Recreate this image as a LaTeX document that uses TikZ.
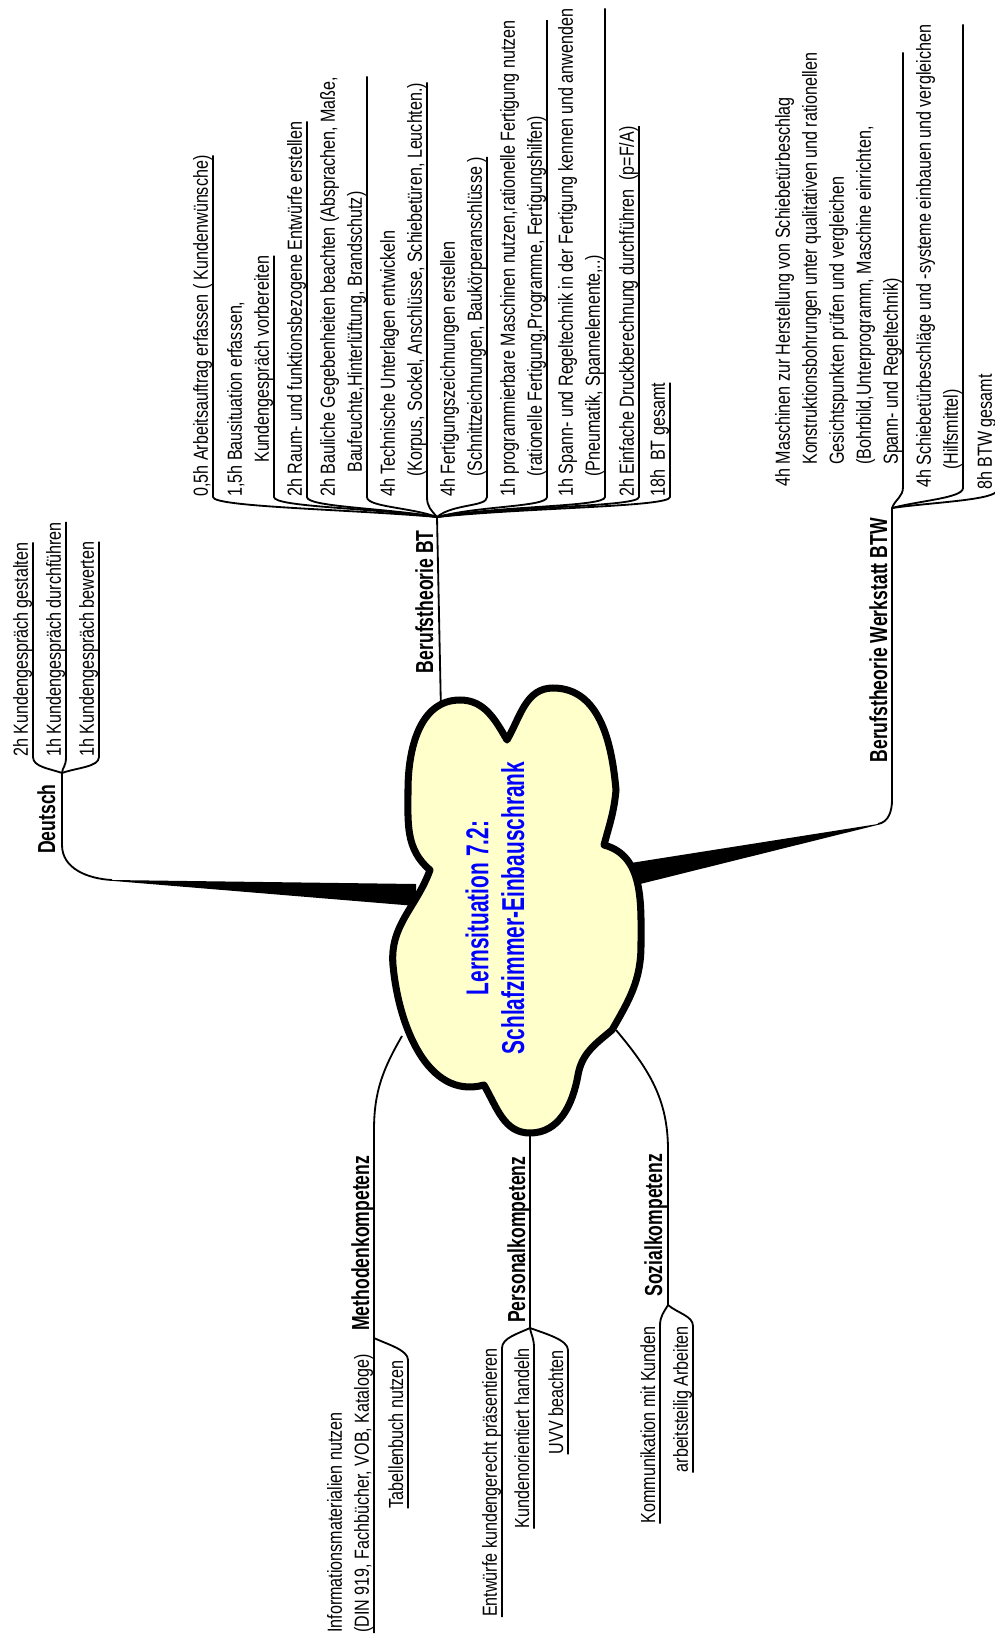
\documentclass[tikz,border=0pt]{standalone}
\usepackage{fontspec}
\setmainfont{Liberation Sans}
\newfontfamily\leaffont{Liberation Sans}[FakeStretch=0.79]
\newfontfamily\topicfont{Liberation Sans}[FakeStretch=0.715]
\newfontfamily\cloudfont{Liberation Sans}[FakeStretch=0.66]
\newcommand\lowstrut{\rule[-2.8pt]{0pt}{2.8pt}}
\definecolor{wolke}{RGB}{255,255,204}

\begin{document}
\begin{tikzpicture}[
    x=0.025cm, y=-0.025cm,                      % Pixelraster des Originals
    line join=round,
    twig/.style={line width=1.3pt},
    leaf/.style={rotate=90, align=left, inner xsep=0pt, inner ysep=0.5pt,
      font=\leaffont\fontsize{14.5}{19.2}\selectfont, execute at end node=\lowstrut},
    topic/.style={rotate=90, inner sep=0pt, font=\topicfont\fontsize{17.5}{20}\selectfont\bfseries},
    fanup/.style={out=#1, in=-90, in distance=0.25cm},   % Aeste nach oben
    fandown/.style={out=#1, in=90, in distance=0.25cm}   % Aeste nach unten
  ]
  \useasboundingbox (0,0) rectangle (994,1637);

  % Verzweigungspunkte
  \coordinate (deu) at (62,773);
  \coordinate (deutip) at (112,880);
  \coordinate (bt) at (437,517);
  \coordinate (btroot) at (441,712);
  \coordinate (btw) at (892,508);
  \coordinate (btwtip) at (878,824);
  \coordinate (meth) at (374,1338);
  \coordinate (methroot) at (402,1036);
  \coordinate (pers) at (530,1328);
  \coordinate (persroot) at (530,1135);
  \coordinate (soz) at (668,1305);
  \coordinate (sozroot) at (616,1030);

  % Hauptaeste
  \node[topic, anchor=base east] (deutsch) at (55,784) {Deutsch};
  \node[topic, anchor=base east] (bttitle) at (433,530) {Berufstheorie BT};
  \node[topic, anchor=base east] (btwtitle) at (887,518) {Berufstheorie Werkstatt BTW};
  \node[topic, anchor=base west] (methtitle) at (369,1331) {Methodenkompetenz};
  \node[topic, anchor=base west] (perstitle) at (525,1323) {Personalkompetenz};
  \node[topic, anchor=base west] (soztitle) at (662,1297) {Sozialkompetenz};

  % Deutsch
  \node[leaf, anchor=south west] (d1) at (33,757) {2h Kundengespräch gestalten};
  \node[leaf, anchor=south west] (d2) at (66,757) {1h Kundengespräch durchführen};
  \node[leaf, anchor=south west] (d3) at (99,757) {1h Kundengespräch bewerten};

  % Berufstheorie BT
  \node[leaf, anchor=south west] (bt1) at (213,497) {0,5h Arbeitsauftrag erfassen ( Kundenwünsche)};
  \node[leaf, anchor=south west] (bt2) at (274,497) {1,5h Bausituation erfassen,\\\hspace*{0.85cm}Kundengespräch vorbereiten};
  \node[leaf, anchor=south west] (bt3) at (307,497) {2h Raum- und funktionsbezogene Entwürfe erstellen};
  \node[leaf, anchor=south west] (bt4) at (367,497) {2h Bauliche Gegebenheiten beachten (Absprachen, Maße,\\\hspace*{0.6cm}Baufeuchte,Hinterlüftung, Brandschutz)};
  \node[leaf, anchor=south west] (bt5) at (427,497) {4h Technische Unterlagen entwickeln\\\hspace*{0.5cm}(Korpus, Sockel, Anschlüsse, Schiebetüren, Leuchten.)};
  \node[leaf, anchor=south west] (bt6) at (487,497) {4h Fertigungszeichnungen erstellen\\\hspace*{0.5cm}(Schnittzeichnungen, Baukörperanschlüsse )};
  \node[leaf, anchor=south west] (bt7) at (547,497) {1h programmierbare Maschinen nutzen,rationelle Fertigung nutzen\\\hspace*{0.5cm}(rationelle Fertigung,Programme, Fertigungshilfen)};
  \node[leaf, anchor=south west] (bt8) at (605,497) {1h Spann- und Regeltechnik in der Fertigung kennen und anwenden\\\hspace*{0.5cm}(Pneumatik, Spannelemente,..)};
  \node[leaf, anchor=south west] (bt9) at (639,497) {2h Einfache Druckberechnung durchführen~ (p=F/A)};
  \node[leaf, anchor=south west] (bt10) at (670,497) {18h~ BT gesamt};

  % Berufstheorie Werkstatt BTW
  \node[leaf, anchor=south west] (btw1) at (903,487) {4h Maschinen zur Herstellung von Schiebetürbeschlag\\\hspace*{0.55cm}Konstruktionsbohrungen unter qualitativen und rationellen\\\hspace*{0.55cm}Gesichtspunkten prüfen und vergleichen\\\hspace*{0.55cm}(Bohrbild,Unterprogramm, Maschine einrichten,\\\hspace*{0.55cm}Spann- und Regeltechnik)};
  \node[leaf, anchor=south west] (btw2) at (963,488) {4h Schiebetürbeschläge und -systeme einbauen und vergleichen\\\hspace*{0.45cm}(Hilfsmittel)};
  \node[leaf, anchor=south west] (btw3) at (997,490) {8h BTW gesamt};

  % Kompetenzen
  \node[leaf, anchor=south east] (m1) at (374,1354) {Informationsmaterialien nutzen\\(DIN 919, Fachbücher, VOB, Kataloge)};
  \node[leaf, anchor=south east] (m2) at (408,1360) {Tabellenbuch nutzen};
  \node[leaf, anchor=south east] (p1) at (502,1348) {Entwürfe kundengerecht präsentieren};
  \node[leaf, anchor=south east] (p2) at (534,1348) {Kundenorientiert handeln};
  \node[leaf, anchor=south east] (p3) at (568,1350) {UVV beachten};
  \node[leaf, anchor=south east] (s1) at (660,1326) {Kommunikation mit Kunden};
  \node[leaf, anchor=south east] (s2) at (693,1326) {arbeitsteilig Arbeiten};

  % Verbindungen
  \fill (416,884) -- (deutip) -- ([yshift=-0.6pt]deutip) -- (416,906) -- cycle;
  \draw[twig] (deutip) to[out=177, in=-90] (62,845) -- (deu);
  \draw[twig] (deu) to[fanup=160] (d1.south west) -- (d1.south east);
  \draw[twig] (deu) to[fanup=85] (d2.south west) -- (d2.south east);
  \draw[twig] (deu) to[fanup=20] (d3.south west) -- (d3.south east);

  \draw[twig] (btroot) -- (bt);
  \draw[twig] (bt) to[fanup=175] (bt1.south west) -- (bt1.south east);
  \draw[twig] (bt) to[fanup=172] (bt2.south west) -- (bt2.south east);
  \draw[twig] (bt) to[fanup=170] (bt3.south west) -- (bt3.south east);
  \draw[twig] (bt) to[fanup=160] (bt4.south west) -- (bt4.south east);
  \draw[twig] (bt) to[fanup=130] (bt5.south west) -- (bt5.south east);
  \draw[twig] (bt) to[fanup=40] (bt6.south west) -- (bt6.south east);
  \draw[twig] (bt) to[fanup=15] (bt7.south west) -- (bt7.south east);
  \draw[twig] (bt) to[fanup=10] (bt8.south west) -- (bt8.south east);
  \draw[twig] (bt) to[fanup=8] (bt9.south west) -- (bt9.south east);
  \draw[twig] (bt) to[fanup=6] (bt10.south west) -- (bt10.south east);

  \fill (618,865) -- (btwtip) -- ([yshift=-0.6pt]btwtip) -- (620,889) -- cycle;
  \draw[twig] (btwtip) to[out=10, in=-90] (892,800) -- (btw);
  \draw[twig] (btw) to[fanup=70] (btw1.south west) -- (btw1.south east);
  \draw[twig] (btw) to[fanup=15] (btw2.south west) -- (btw2.south east);
  \draw[twig] (btw) to[fanup=8] (btw3.south west) -- (btw3.south east);

  \draw[twig] (methroot) to[out=-120, in=90] (374,1130) -- (meth) -- (m1.south east) -- (m1.south west);
  \draw[twig] (meth) to[fandown=-25] (m2.south east) -- (m2.south west);

  \draw[twig] (persroot) -- (pers);
  \draw[twig] (pers) to[fandown=-155] (p1.south east) -- (p1.south west);
  \draw[twig] (pers) to[fandown=-80] (p2.south east) -- (p2.south west);
  \draw[twig] (pers) to[fandown=-20] (p3.south east) -- (p3.south west);

  \draw[twig] (sozroot) to[out=-50, in=90] (668,1150) -- (soz);
  \draw[twig] (soz) to[fandown=-120] (s1.south east) -- (s1.south west);
  \draw[twig] (soz) to[fandown=-40] (s2.south east) -- (s2.south west);

  % Wolke
  \draw[line width=5pt, fill=wolke] (507,740) to[out=60, in=180] (553,688)
    to[out=0, in=95] (616,790) to[out=-95, in=75] (604,845)
    to[out=-15, in=90] (641,945) to[out=-90, in=60] (612,1030)
    to[out=-140, in=80] (578,1075) to[out=-100, in=0] (530,1133)
    to[out=180, in=-60] (484,1085) to[out=195, in=-85] (393,965)
    to[out=95, in=-110] (430,870) to[out=140, in=-90] (408,790)
    to[out=90, in=180] (460,700) to[out=0, in=120] (507,740) -- cycle;
  \node[rotate=90, align=center, text=blue, font=\cloudfont\fontsize{22.5}{25.5}\selectfont\bfseries]
    (lsit) at (495,908) {Lernsituation 7.2:\\Schlafzimmer-Einbauschrank};
\end{tikzpicture}
\end{document}
